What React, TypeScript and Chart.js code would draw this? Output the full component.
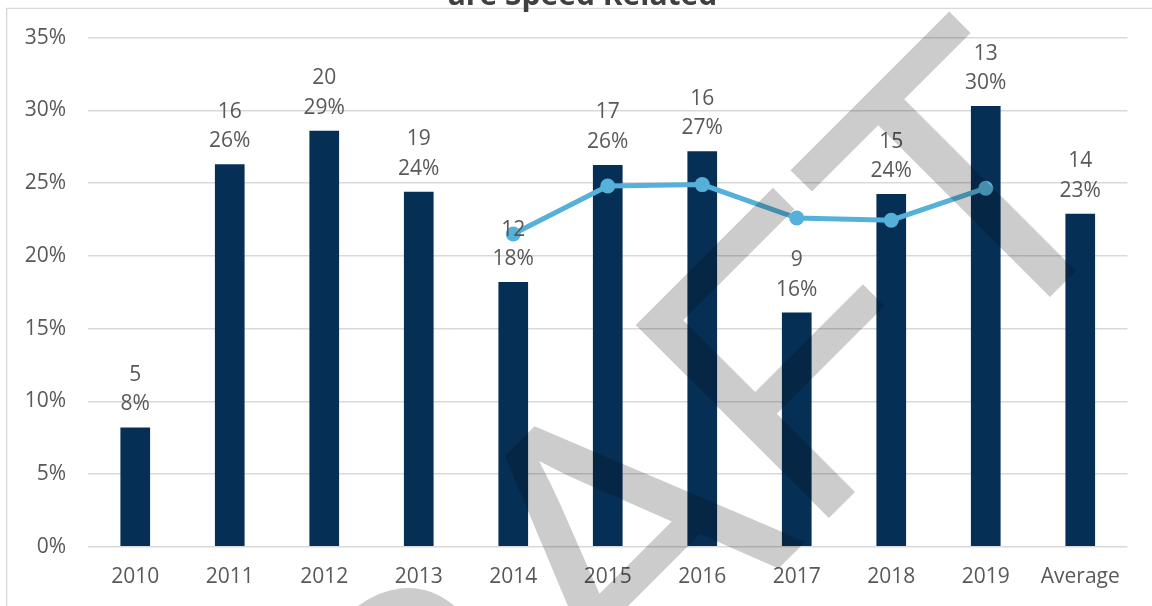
import { useEffect, useRef } from 'react';
import { Chart, registerables } from 'chart.js';

Chart.register(...registerables);

// ---- data ----
const categories = ['2010', '2011', '2012', '2013', '2014', '2015', '2016', '2017', '2018', '2019', 'Average'];
const speedShare = [0.082, 0.263, 0.286, 0.244, 0.182, 0.2625, 0.272, 0.161, 0.2425, 0.303, 0.229];
const speedCount = [5, 16, 20, 19, 12, 17, 16, 9, 15, 13, 14];
const trendShare = [null, null, null, null, 0.215, 0.248, 0.249, 0.226, 0.2245, 0.2465, null];
const yMin = 0;
const yMax = 0.35;
const yStep = 0.05;
const titleText = 'are Speed Related';
const watermarkText = 'DRAFT';

const FONT = '"Open Sans", "Noto Sans", sans-serif';
const TEXT_GRAY = '#595959';
const BAR_NAVY = '#062F56';
const LINE_BLUE = '#56B1DA';

export default function App() {
  const ref = useRef<HTMLCanvasElement | null>(null);

  useEffect(() => {
    const canvas = ref.current;
    if (!canvas) return;

    const framePlugin = {
      id: 'frameAndTitle',
      beforeDraw(chart: any) {
        const ctx = chart.ctx;
        ctx.save();
        ctx.strokeStyle = '#d9d9d9';
        ctx.lineWidth = 1.3;
        ctx.beginPath();
        ctx.moveTo(6.7, 606);
        ctx.lineTo(6.7, 8.3);
        ctx.lineTo(1152, 8.3);
        ctx.stroke();
        ctx.font = `bold 30px ${FONT}`;
        ctx.fillStyle = '#404040';
        ctx.textAlign = 'center';
        ctx.textBaseline = 'alphabetic';
        ctx.fillText(titleText, 582.5, 4.5);
        ctx.restore();
      },
    };

    const labelPlugin = {
      id: 'barLabels',
      afterDatasetsDraw(chart: any) {
        const meta = chart.getDatasetMeta(0);
        const ctx = chart.ctx;
        ctx.save();
        ctx.font = `21px ${FONT}`;
        ctx.fillStyle = TEXT_GRAY;
        ctx.textAlign = 'center';
        ctx.textBaseline = 'alphabetic';
        meta.data.forEach((el: any, i: number) => {
          const { x, y } = el.getProps(['x', 'y'], true);
          ctx.fillText(Math.round(speedShare[i] * 100) + '%', x, y - 17);
          ctx.fillText(String(speedCount[i]), x, y - 46.5);
        });
        ctx.restore();
      },
    };

    const watermarkPlugin = {
      id: 'watermark',
      afterDraw(chart: any) {
        const ctx = chart.ctx;
        ctx.save();
        ctx.globalCompositeOperation = 'multiply';
        ctx.fillStyle = 'rgb(204,204,204)';
        ctx.translate(1148.8, 198.2);
        ctx.rotate(-Math.PI / 4);
        ctx.font = '397px "Liberation Sans", Arial, sans-serif';
        ctx.textAlign = 'right';
        ctx.textBaseline = 'alphabetic';
        ctx.fillText(watermarkText, 0, 0);
        ctx.restore();
      },
    };

    const chart = new Chart(canvas, {
      type: 'bar',
      data: {
        labels: categories,
        datasets: [
          {
            type: 'bar',
            data: speedShare,
            backgroundColor: BAR_NAVY,
            borderWidth: 0,
            barPercentage: 0.314,
            categoryPercentage: 1,
            order: 1,
          } as any,
          {
            type: 'line',
            data: trendShare,
            borderColor: LINE_BLUE,
            backgroundColor: LINE_BLUE,
            borderWidth: 5,
            pointRadius: 7.5,
            pointBorderWidth: 0,
            pointBackgroundColor: LINE_BLUE,
            tension: 0,
            order: 0,
          } as any,
        ],
      },
      options: {
        animation: false,
        responsive: true,
        maintainAspectRatio: false,
        layout: { padding: { left: 0, right: 24.5, top: 37.7, bottom: 0 } },
        plugins: {
          legend: { display: false },
          tooltip: { enabled: false },
          title: { display: false },
        },
        scales: {
          x: {
            grid: { display: false, drawTicks: false },
            border: { display: false },
            ticks: { color: TEXT_GRAY, font: { family: FONT, size: 21 }, padding: 18, maxRotation: 0 },
            afterFit(scale: any) {
              scale.height = 59.3;
            },
          },
          y: {
            min: yMin,
            max: yMax,
            grid: { color: '#d9d9d9', lineWidth: 1.5, drawTicks: false },
            border: { display: false },
            ticks: {
              stepSize: yStep,
              color: TEXT_GRAY,
              font: { family: FONT, size: 21 },
              padding: 22,
              callback: (v: any) => Math.round(Number(v) * 100) + '%',
            },
            afterFit(scale: any) {
              scale.width = 88;
            },
          },
        },
      },
      plugins: [framePlugin, labelPlugin, watermarkPlugin],
    });

    return () => chart.destroy();
  }, []);

  return (
    <div style={{ position: 'fixed', left: 0, top: 0, width: 1152, height: 606, background: '#ffffff' }}>
      <canvas ref={ref} />
    </div>
  );
}
